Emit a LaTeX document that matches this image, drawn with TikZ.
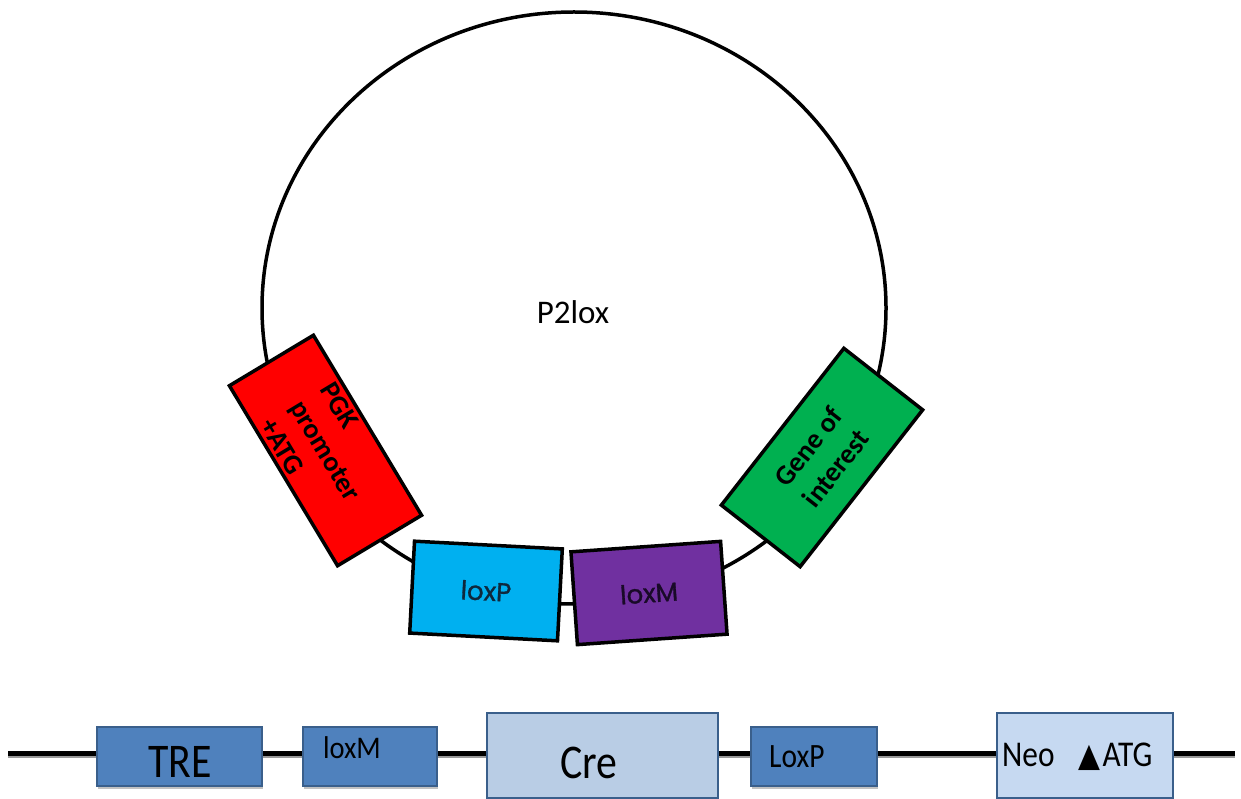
\documentclass[tikz,border=0pt]{standalone}
\usepackage{fontspec}
\setmainfont{Carlito}
\newfontfamily\geo[FakeBold=1.2]{Poppins}
\newfontfamily\symf{DejaVu Sans}
\usetikzlibrary{shadows}
\definecolor{pgkred}{HTML}{FF0000}
\definecolor{goigreen}{HTML}{00B050}
\definecolor{loxpcyan}{HTML}{00B0F0}
\definecolor{loxmpurple}{HTML}{7030A0}
\definecolor{darkblue}{HTML}{4F81BD}
\definecolor{lightblue}{HTML}{B9CDE5}
\definecolor{paleblue}{HTML}{C6D9F1}
\definecolor{bborder}{HTML}{3A5F8B}
\begin{document}
\begin{tikzpicture}[x=1pt,y=-1pt,
  plasbox/.style={draw=black, line width=3.5pt, inner sep=0pt, align=center,
    font=\bfseries\fontsize{28}{35}\selectfont},
  loxbox/.style={draw=black, line width=3.5pt, inner sep=0pt,
    font=\geo\fontsize{26}{28}\selectfont},
  gbox/.style={draw=bborder, line width=2.5pt, inner sep=0pt,
    drop shadow={shadow xshift=0.8pt, shadow yshift=-2.5pt, fill=black!40, opacity=0.6}},
  gtext/.style={inner sep=0pt, text=black}]
\useasboundingbox (0,0) rectangle (1241,799);
% plasmid
\draw[line width=3.5pt] (574,308) ellipse [x radius=312, y radius=296];
\node[font=\fontsize{33}{38}\selectfont] (title) at (573,312) {P2lox};
\node[plasbox, fill=pgkred, rotate=-59, minimum width=210pt, minimum height=98pt, align=left]
  (pgk) at (325.5,450.5) {PGK\\promoter\\+ATG};
\node[plasbox, fill=goigreen, rotate=52, minimum width=199pt, minimum height=100pt]
  (goi) at (822,457.5) {Gene of\\interest};
\node[loxbox, fill=loxpcyan, rotate=-3, minimum width=148pt, minimum height=92pt,
  text={rgb,255:red,15;green,40;blue,60}] (loxp) at (486,591) {\raisebox{-6pt}{loxP}};
\node[loxbox, fill=loxmpurple, rotate=4, minimum width=150pt, minimum height=93pt,
  text={rgb,255:red,25;green,10;blue,40}] (loxm) at (649,593) {\raisebox{-5pt}{loxM}};
% construct line
\coordinate (lstart) at (8,753);
\coordinate (lend) at (1235,753);
\draw[line width=5pt, black!40] ([yshift=-2pt]lstart) -- ([yshift=-2pt]lend);
\draw[line width=5pt] (lstart) -- (lend);
\node[gbox, fill=darkblue, minimum width=165pt, minimum height=59pt] (tre) at (179.5,756.5) {};
\node[gbox, fill=darkblue, minimum width=134pt, minimum height=59pt] (loxm2) at (370,756.5) {};
\node[gbox, fill=lightblue, minimum width=231pt, minimum height=85pt] (cre) at (602.5,755.5) {};
\node[gbox, fill=darkblue, minimum width=126pt, minimum height=59pt] (loxp2) at (814,756.5) {};
\node[gbox, fill=paleblue, minimum width=176pt, minimum height=85pt] (neo) at (1085,755.5) {};
\node[gtext, font=\fontsize{44}{50}\selectfont] (tre-t) at (180,762) {\scalebox{0.95}[1.1]{TRE}};
\node[gtext, font=\fontsize{30}{34}\selectfont] (loxm2-t) at (352,748) {\scalebox{0.95}[1.05]{loxM}};
\node[gtext, font=\fontsize{44}{50}\selectfont] (cre-t) at (589,763) {\scalebox{0.95}[1.1]{Cre}};
\node[gtext, font=\fontsize{31}{36}\selectfont, anchor=west] (loxp2-t) at (769,757) {\scalebox{0.95}[1.1]{LoxP}};
\node[gtext, font=\fontsize{33}{36}\selectfont, anchor=west] (neo-t) at (1002,757) {\scalebox{0.95}[1.1]{Neo\hspace{0.75em}{\symf\fontsize{30}{32}\selectfont ▲}\hspace{0.08em}ATG}};
\end{tikzpicture}
\end{document}
